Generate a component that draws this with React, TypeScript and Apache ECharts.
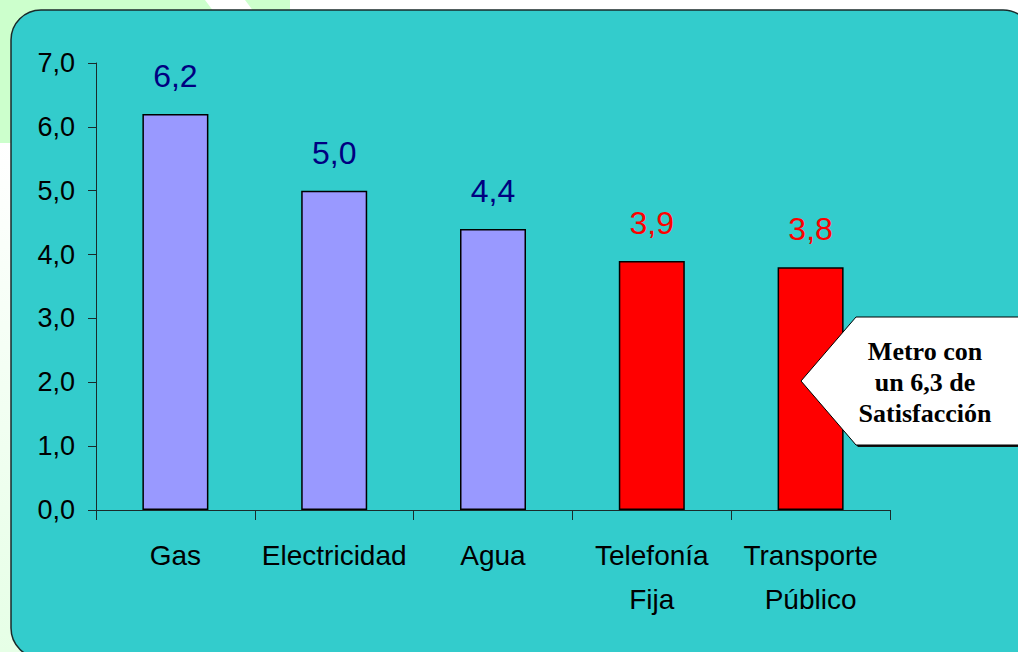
import React, { useEffect, useRef } from "react";
import * as echarts from "echarts";

const categories = ["Gas", "Electricidad", "Agua", "Telefonía\nFija", "Transporte\nPúblico"];
const values = [6.2, 5.0, 4.4, 3.9, 3.8];
const barColors = ["#9999FF", "#9999FF", "#9999FF", "#FF0000", "#FF0000"];
const labelColors = ["#000080", "#000080", "#000080", "#FF0000", "#FF0000"];
const calloutLines = ["Metro con", "un 6,3 de", "Satisfacción"];

const fmt = (v: number) => v.toFixed(1).replace(".", ",");

export default function App() {
  const ref = useRef<HTMLDivElement>(null);
  useEffect(() => {
    if (!ref.current) return;
    const chart = echarts.init(ref.current, undefined, { renderer: "svg" });
    chart.setOption({
      animation: false,
      backgroundColor: "#ffffff",
      graphic: [
        {
          type: "rect",
          z: -10,
          silent: true,
          shape: { x: 0, y: 0, width: 290, height: 143 },
          style: { fill: "#ccffcc" },
        },
        {
          type: "polygon",
          z: -9,
          silent: true,
          shape: { points: [[205, 0], [245, 0], [275, 40], [235, 40]] },
          style: { fill: "#ffffff" },
        },
        {
          type: "rect",
          z: -10,
          silent: true,
          shape: { x: 0, y: 143, width: 40, height: 509 },
          style: {
            fill: new echarts.graphic.LinearGradient(0, 0, 0, 1, [
              { offset: 0, color: "#ffffff" },
              { offset: 1, color: "#e6ffe6" },
            ]),
          },
        },
        {
          type: "rect",
          z: -5,
          silent: true,
          shape: { x: 11, y: 10, width: 1022, height: 648, r: 30 },
          style: { fill: "#33CCCC", stroke: "#1a2a2a", lineWidth: 1.5 },
        },
        {
          type: "polygon",
          z: 20,
          silent: true,
          shape: { points: [[803, 383], [858, 319], [1030, 319], [1030, 447], [858, 447]] },
          style: { fill: "#111111" },
        },
        {
          type: "polygon",
          z: 21,
          silent: true,
          shape: { points: [[801, 381], [856, 317], [1030, 317], [1030, 445], [856, 445]] },
          style: { fill: "#ffffff", stroke: "#000000", lineWidth: 1 },
        },
        {
          type: "text",
          z: 22,
          silent: true,
          x: 925,
          y: 382,
          style: {
            text: calloutLines.join("\n"),
            fill: "#000000",
            font: "bold 26px 'Liberation Serif', 'Times New Roman', serif",
            lineHeight: 31,
            align: "center",
            verticalAlign: "middle",
          },
        },
      ],
      grid: { left: 96, right: 128, top: 63, bottom: 142 },
      xAxis: {
        type: "category",
        data: categories,
        axisLine: { lineStyle: { color: "#1a2a2a", width: 1 } },
        axisTick: { show: true, length: 10, alignWithLabel: false, lineStyle: { color: "#1a2a2a" } },
        axisLabel: {
          color: "#000000",
          fontFamily: "'Liberation Sans', Arial, sans-serif",
          fontSize: 28,
          lineHeight: 44,
          margin: 23,
          interval: 0,
        },
      },
      yAxis: {
        type: "value",
        min: 0,
        max: 7,
        interval: 1,
        splitLine: { show: false },
        axisLine: { show: true, lineStyle: { color: "#1a2a2a", width: 1 } },
        axisTick: { show: true, length: 8, lineStyle: { color: "#1a2a2a" } },
        axisLabel: {
          color: "#000000",
          fontFamily: "'Liberation Sans', Arial, sans-serif",
          fontSize: 27,
          margin: 21,
          formatter: (v: number) => fmt(v),
        },
      },
      series: [
        {
          type: "bar",
          barWidth: 66,
          data: values.map((v, i) => ({
            value: v,
            itemStyle: { color: barColors[i], borderColor: "#000000", borderWidth: 1.5 },
            label: { color: labelColors[i] },
          })),
          label: {
            show: true,
            position: "top",
            distance: 22,
            fontFamily: "'Liberation Sans', Arial, sans-serif",
            fontSize: 32,
            formatter: (p: any) => fmt(p.value),
          },
        },
      ],
    });
    return () => chart.dispose();
  }, []);
  return (
    <div
      ref={ref}
      style={{ position: "fixed", left: 0, top: 0, width: 1018, height: 652 }}
    />
  );
}
